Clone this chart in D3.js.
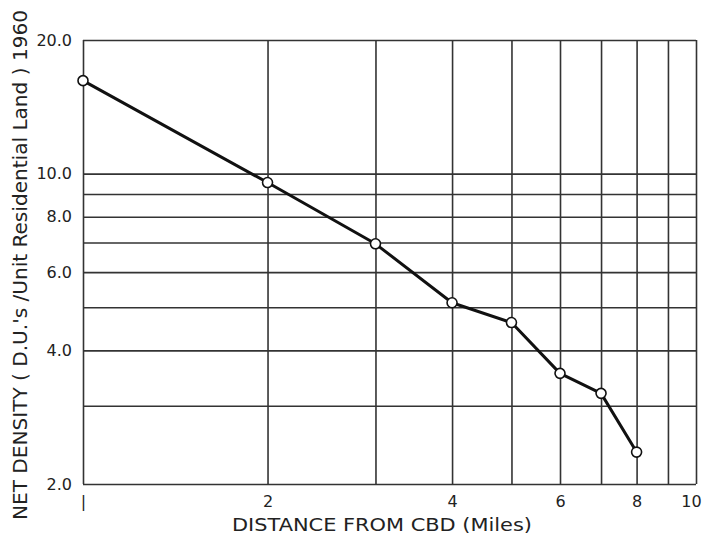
<!DOCTYPE html>
<html>
<head>
<meta charset="utf-8">
<script src="https://cdn.jsdelivr.net/npm/d3@7"></script>
<style>
  body { margin: 0; background: #fff; }
  svg text { font-family: "DejaVu Sans", sans-serif; fill: #222; }
</style>
</head>
<body>
<div id="chart"></div>
<script>
// distance from CBD (miles) and net density
const distance = [1, 2, 3, 4, 5, 6, 7, 8];
const density = [16.2, 9.55, 6.95, 5.12, 4.62, 3.55, 3.2, 2.36];

const xGrid = [1, 2, 3, 4, 5, 6, 7, 8, 9, 10];
const yGrid = [2, 3, 4, 5, 6, 7, 8, 9, 10, 20];
const xTickLabels = [1, 2, 4, 6, 8, 10];
const yTickLabels = [2, 4, 6, 8, 10, 20];

const W = 705, H = 535;
const margin = { left: 83, right: 9, top: 40, bottom: 51 };
const w = W - margin.left - margin.right;
const h = H - margin.top - margin.bottom;

const svg = d3.select("#chart").append("svg")
  .attr("width", W)
  .attr("height", H);

const g = svg.append("g")
  .attr("transform", "translate(" + margin.left + "," + margin.top + ")");

const x = d3.scaleLog().domain([1, 10]).range([0, w]);
const y = d3.scaleLog().domain([2, 20]).range([h, 0]);

// grid
g.append("g")
  .attr("transform", "translate(0," + h + ")")
  .call(d3.axisBottom(x).tickValues(xGrid).tickSize(-h).tickFormat(""))
  .call(a => a.select(".domain").remove())
  .selectAll("line").attr("stroke", "#333").attr("stroke-width", 1.6);

g.append("g")
  .call(d3.axisLeft(y).tickValues(yGrid).tickSize(-w).tickFormat(""))
  .call(a => a.select(".domain").remove())
  .selectAll("line").attr("stroke", "#333").attr("stroke-width", 1.6);

// tick labels
const xa = g.append("g")
  .attr("transform", "translate(0," + h + ")")
  .call(d3.axisBottom(x).tickValues(xTickLabels).tickSize(0).tickPadding(12)
    .tickFormat(d => d === 1 ? "|" : d));
xa.select(".domain").remove();
xa.selectAll("text").style("font-size", "16px").style("fill", "#222")
  .attr("dx", d => d === 10 ? -5 : 0);

const ya = g.append("g")
  .call(d3.axisLeft(y).tickValues(yTickLabels).tickSize(0).tickPadding(11)
    .tickFormat(d3.format(".1f")));
ya.select(".domain").remove();
ya.selectAll("text").style("font-size", "16px").style("fill", "#222");

// data line
const line = d3.line()
  .x((d, i) => x(distance[i]))
  .y(d => y(d));

g.append("path")
  .datum(density)
  .attr("fill", "none")
  .attr("stroke", "#111")
  .attr("stroke-width", 3)
  .attr("stroke-linejoin", "round")
  .attr("d", line);

g.selectAll("circle")
  .data(density)
  .enter().append("circle")
  .attr("cx", (d, i) => x(distance[i]))
  .attr("cy", d => y(d))
  .attr("r", 5)
  .attr("fill", "white")
  .attr("stroke", "#111")
  .attr("stroke-width", 1.6);

// axis titles
svg.append("text")
  .attr("x", 382)
  .attr("y", 531)
  .attr("text-anchor", "middle")
  .attr("textLength", 300)
  .attr("lengthAdjust", "spacingAndGlyphs")
  .style("font-size", "18px")
  .text("DISTANCE FROM CBD (Miles)");

svg.append("text")
  .attr("transform", "translate(27,265) rotate(-90)")
  .attr("text-anchor", "middle")
  .attr("textLength", 510)
  .attr("lengthAdjust", "spacingAndGlyphs")
  .style("font-size", "19px")
  .text("NET DENSITY ( D.U.'s /Unit Residential Land ) 1960");
</script>
</body>
</html>
